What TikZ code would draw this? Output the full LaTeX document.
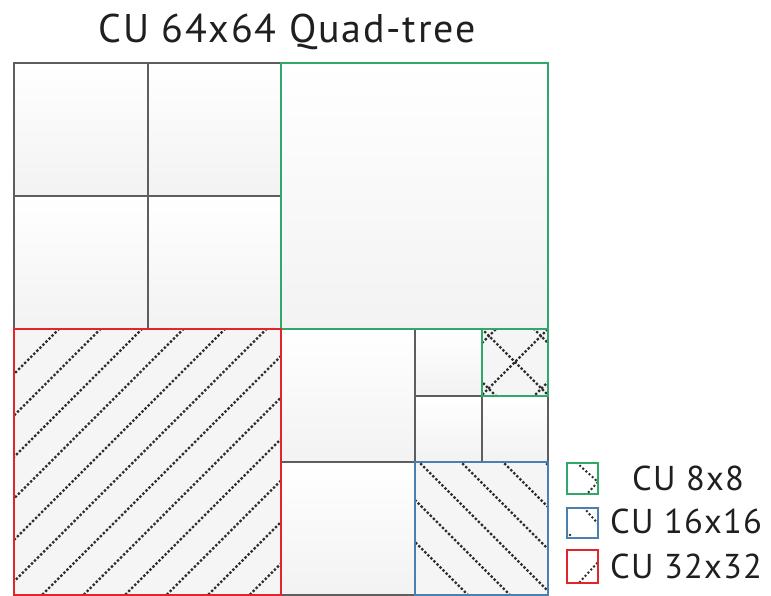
\documentclass[tikz,border=0pt]{standalone}
\usepackage{fontspec}
\setmainfont{PT Sans}
\begin{document}
\begin{tikzpicture}[x=1pt,y=-1pt,
  grid/.style={draw=gridgray,line width=2.4pt},
  cell/.style={top color=white,bottom color=black!5},
  hatchbg/.style={fill=black!4},
  dotline/.style={draw=dotgray,line width=3.3pt,line cap=round,dash pattern=on 0pt off 4.3pt},
  legdots/.style={dotline,line width=2.8pt,dash pattern=on 0pt off 4.2pt},
  cu8/.style={draw=cugreen,line width=2.8pt},
  cu16/.style={draw=cublue,line width=2.8pt},
  cu32/.style={draw=cured,line width=2.8pt},
  lbl/.style={font=\fontsize{34.5}{38}\selectfont\addfontfeatures{LetterSpace=3.5},anchor=base west,inner sep=0pt,text=black!88}]
\definecolor{gridgray}{HTML}{5E5E5E}
\definecolor{dotgray}{HTML}{2E2E2E}
\definecolor{cugreen}{HTML}{2FA86A}
\definecolor{cublue}{HTML}{4A80B0}
\definecolor{cured}{HTML}{E0262B}
\useasboundingbox (0,0) rectangle (771,596);
\fill[white] (0,0) rectangle (771,596);

% title
\node[font=\fontsize{40}{44}\selectfont\addfontfeatures{LetterSpace=4.5},anchor=base,inner sep=0pt,text=black!88] (title) at (287,43) {CU 64x64 Quad-tree};

% plain cells with a soft vertical gradient
\foreach \xa/\ya/\xb/\yb in {14/63/148/196, 148/63/281/196, 14/196/148/329, 148/196/281/329,
    281/63/548/329, 281/329/415/462, 281/462/415/595, 415/329/482/396,
    415/396/482/462, 482/396/548/462}
  \shade[cell] (\xa,\ya) rectangle (\xb,\yb);

% hatched cells: background
\fill[hatchbg] (14,329) rectangle (281,595);
\fill[hatchbg] (415,462) rectangle (548,595);
\fill[hatchbg] (482,329) rectangle (548,396);

% CU 32x32 hatch (/)
\begin{scope}
  \clip (14,329) rectangle (281,595);
  \foreach \c in {388,429.5,...,860}
    \draw[dotline] ({\c-600},600) -- ({\c-320},320);
\end{scope}
% CU 16x16 hatch (\)
\begin{scope}
  \clip (415,462) rectangle (548,595);
  \foreach \c in {-127,-85,...,90}
    \draw[dotline] ({\c+455},455) -- ({\c+600},600);
\end{scope}
% CU 8x8 cross hatch
\begin{scope}
  \clip (482,329) rectangle (548,396);
  \foreach \c in {100,153,205}
    \draw[dotline] ({\c+320},320) -- ({\c+400},400);
  \foreach \c in {825,877,930}
    \draw[dotline] ({\c-400},400) -- ({\c-320},320);
\end{scope}

% quad-tree split lines
\draw[grid] (14,63) rectangle (548,595);
\draw[grid] (148,63) -- (148,329);
\draw[grid] (14,196) -- (281,196);
\draw[grid] (281,63) -- (281,595);
\draw[grid] (14,329) -- (548,329);
\draw[grid] (415,329) -- (415,595);
\draw[grid] (281,462) -- (548,462);
\draw[grid] (482,329) -- (482,462);
\draw[grid] (415,396) -- (548,396);

% highlighted coding units
\draw[cu8] (281,63) rectangle (548,329);
\draw[cu8] (482,329) rectangle (548,396);
\draw[cu16] (415,462) rectangle (548,595);
\draw[cu32] (14,329) rectangle (281,595);

% legend
\fill[white] (567,463) rectangle (598,494);
\begin{scope}
  \clip (567,463) rectangle (598,494);
  \draw[legdots] (577,463) -- (598,482) -- (585,496);
\end{scope}
\draw[cu8,line width=2.2pt] (567,463) rectangle (598,494);
\fill[white] (567,508) rectangle (598,538);
\begin{scope}
  \clip (567,508) rectangle (598,538);
  \draw[legdots] (584,508) -- (600,526);
  \draw[legdots] (567,532) -- (572,537);
\end{scope}
\draw[cu16,line width=2.2pt] (567,508) rectangle (598,538);
\fill[white] (567,550) rectangle (598,583);
\begin{scope}
  \clip (567,550) rectangle (598,583);
  \draw[legdots] (577,585) -- (600,560);
\end{scope}
\draw[cu32,line width=2.2pt] (567,550) rectangle (598,583);

\node[lbl] (l8) at (632,490) {CU 8x8};
\node[lbl] (l16) at (610,533) {CU 16x16};
\node[lbl] (l32) at (610,578) {CU 32x32};
\end{tikzpicture}
\end{document}
